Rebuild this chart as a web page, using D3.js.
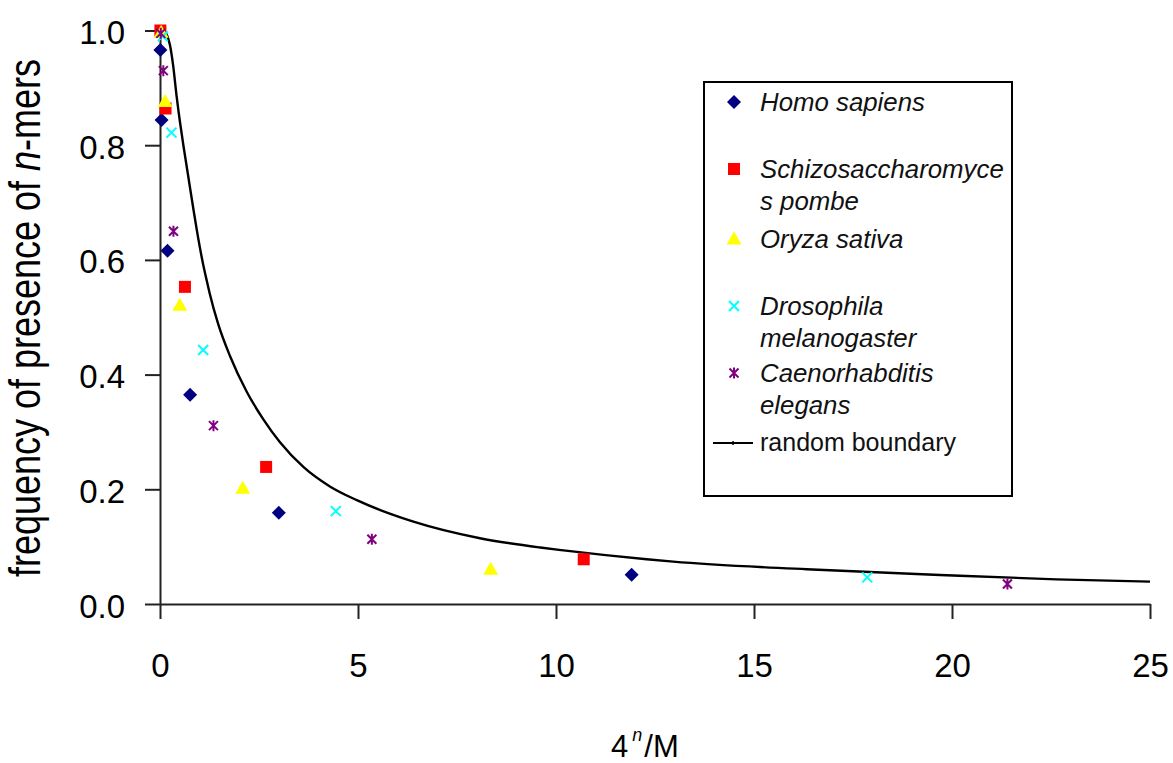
<!DOCTYPE html>
<html>
<head>
<meta charset="utf-8">
<script src="https://cdn.jsdelivr.net/npm/d3@7"></script>
<style>
  body { margin: 0; background: #fff; }
  svg { display: block; font-family: "Liberation Sans", Arial, sans-serif; }
  .axis path, .axis line { stroke: #222; stroke-width: 2; }
  .axis text { font-size: 33px; fill: #000; font-family: "Liberation Sans", Arial, sans-serif; }
  .legend text { font-size: 25px; fill: #111; }
</style>
</head>
<body>
<svg width="1173" height="763"></svg>
<script>
// [4^n/M, frequency]
const homoSapiens = [[0.01, 0.966], [0.04, 0.844], [0.19, 0.616], [0.76, 0.365], [3.0, 0.159], [11.91, 0.051]]
const schizoPombe = [[0.01, 1.0], [0.14, 0.864], [0.63, 0.553], [2.68, 0.239], [10.7, 0.078]]
const oryzaSativa = [[0.03, 0.997], [0.13, 0.876], [0.5, 0.521], [2.09, 0.202], [8.35, 0.0605]]
const drosophila = [[0.07, 0.99], [0.29, 0.822], [1.09, 0.443], [4.44, 0.162], [17.86, 0.0465]]
const caenorhabditis = [[0.02, 0.995], [0.084, 0.93], [0.34, 0.65], [1.35, 0.311], [5.35, 0.113], [21.4, 0.035]]
const randomBoundary = [
  [0.12, 1.0], [0.25, 0.975], [0.33, 0.94], [0.42, 0.885], [0.505, 0.84], [0.59, 0.80],
  [0.715, 0.745], [0.84, 0.69], [0.93, 0.652], [1.09, 0.592], [1.18, 0.564], [1.26, 0.54],
  [1.47, 0.488], [1.77, 0.432], [2.19, 0.37], [2.61, 0.322], [3.03, 0.282], [3.62, 0.239],
  [4.29, 0.205], [4.97, 0.181], [6.4, 0.1435], [8.08, 0.1146], [9.6, 0.0985], [10.19, 0.0935],
  [12.29, 0.078], [12.96, 0.0738], [16.33, 0.0605], [19.7, 0.0506], [22.64, 0.043], [25, 0.039]
]

const xTicks = [0, 5, 10, 15, 20, 25]
const yTicks = [0, 0.2, 0.4, 0.6, 0.8, 1.0]

const seriesNames = [
  ["Homo sapiens"],
  ["Schizosaccharomyce", "s pombe"],
  ["Oryza sativa"],
  ["Drosophila", "melanogaster"],
  ["Caenorhabditis", "elegans"]
]
const seriesColors = ["#000080", "#ff0000", "#ffff00", "#00ffff", "#800080"]
const seriesData = [homoSapiens, schizoPombe, oryzaSativa, drosophila, caenorhabditis]
const seriesShapes = ["diamond", "square", "triangle", "x", "star"]

const svg = d3.select("svg")

svg.append("rect")
  .attr("width", 1173)
  .attr("height", 763)
  .attr("fill", "#fff")

const x = d3.scaleLinear()
  .domain([0, 25])
  .range([160, 1150])

const y = d3.scaleLinear()
  .domain([0, 1])
  .range([604, 30.5])

// x axis
const xAxis = svg.append("g")
  .attr("class", "axis")
  .attr("transform", `translate(0, ${y(0)})`)
  .call(d3.axisBottom(x).tickValues(xTicks).tickSize(15).tickSizeOuter(0).tickFormat(d3.format("d")))
xAxis.selectAll("text").attr("dy", null).attr("y", 73)

// y axis
const yAxis = svg.append("g")
  .attr("class", "axis")
  .attr("transform", `translate(${x(0)}, 0)`)
  .call(d3.axisLeft(y).tickValues(yTicks).tickSize(15).tickSizeOuter(0).tickFormat(d3.format(".1f")))
yAxis.selectAll("text").attr("dy", null).attr("x", -35).attr("y", 13)

// axis titles
const yTitle = svg.append("text")
  .attr("transform", "translate(40, 318) scale(1.25, 1) rotate(-90)")
  .attr("text-anchor", "middle")
  .style("font-size", "36px")
yTitle.append("tspan").text("frequency of presence of ")
yTitle.append("tspan").style("font-style", "italic").text("n")
yTitle.append("tspan").text("-mers")

const xTitle = svg.append("text")
  .attr("x", 611)
  .attr("y", 757)
  .style("font-size", "31px")
xTitle.append("tspan").text("4")
xTitle.append("tspan").style("font-style", "italic").style("font-size", "18px").attr("dy", -16).attr("dx", 4).text("n")
xTitle.append("tspan").attr("dy", 16).attr("dx", 2).text("/M")

// marker shapes
function markerPath(shape) {
  if (shape === "diamond") return "M0,-7L7,0L0,7L-7,0Z"
  if (shape === "square") return "M-6,-6H6V6H-6Z"
  if (shape === "triangle") return "M0,-7.5L7.5,5.5H-7.5Z"
  if (shape === "x") return "M-5,-5L5,5M5,-5L-5,5"
  return "M-4.5,-4.5L4.5,4.5M4.5,-4.5L-4.5,4.5M0,-5.5V5.5"
}
function drawMarker(sel, shape, color) {
  const stroked = shape === "x" || shape === "star"
  sel.attr("d", markerPath(shape))
    .attr("fill", stroked ? "none" : color)
    .attr("stroke", stroked ? color : "none")
    .attr("stroke-width", stroked ? 2 : 0)
}

// random boundary line
const lineGenerator = d3.line()
  .x(d => x(d[0]))
  .y(d => y(d[1]))
  .curve(d3.curveMonotoneX)

svg.append("path")
  .datum(randomBoundary)
  .attr("d", lineGenerator)
  .attr("fill", "none")
  .attr("stroke", "#000")
  .attr("stroke-width", 2.4)

// scatter series
seriesData.forEach((data, i) => {
  svg.append("g")
    .selectAll("path")
    .data(data)
    .enter()
    .append("path")
    .attr("transform", d => `translate(${x(d[0])}, ${y(d[1])})`)
    .call(drawMarker, seriesShapes[i], seriesColors[i])
})

// legend
const legend = svg.append("g").attr("class", "legend")
legend.append("rect")
  .attr("x", 704)
  .attr("y", 82)
  .attr("width", 308)
  .attr("height", 414)
  .attr("fill", "#fff")
  .attr("stroke", "#000")
  .attr("stroke-width", 2)

const legendRows = [102, 169, 239, 306, 373]
seriesNames.forEach((lines, i) => {
  legend.append("path")
    .attr("transform", `translate(734, ${legendRows[i]})`)
    .call(drawMarker, seriesShapes[i], seriesColors[i])
  lines.forEach((t, j) => {
    legend.append("text")
      .attr("x", 760)
      .attr("y", legendRows[i] + 9 + j * 31.7)
      .style("font-style", "italic")
      .style("font-size", "25.8px")
      .text(t)
  })
})

legend.append("line")
  .attr("x1", 713).attr("x2", 753)
  .attr("y1", 443).attr("y2", 443)
  .attr("stroke", "#000")
  .attr("stroke-width", 2)
legend.append("line")
  .attr("x1", 733).attr("x2", 733)
  .attr("y1", 441).attr("y2", 445)
  .attr("stroke", "#000")
  .attr("stroke-width", 1.5)
legend.append("text")
  .attr("x", 760)
  .attr("y", 451)
  .text("random boundary")
</script>
</body>
</html>
